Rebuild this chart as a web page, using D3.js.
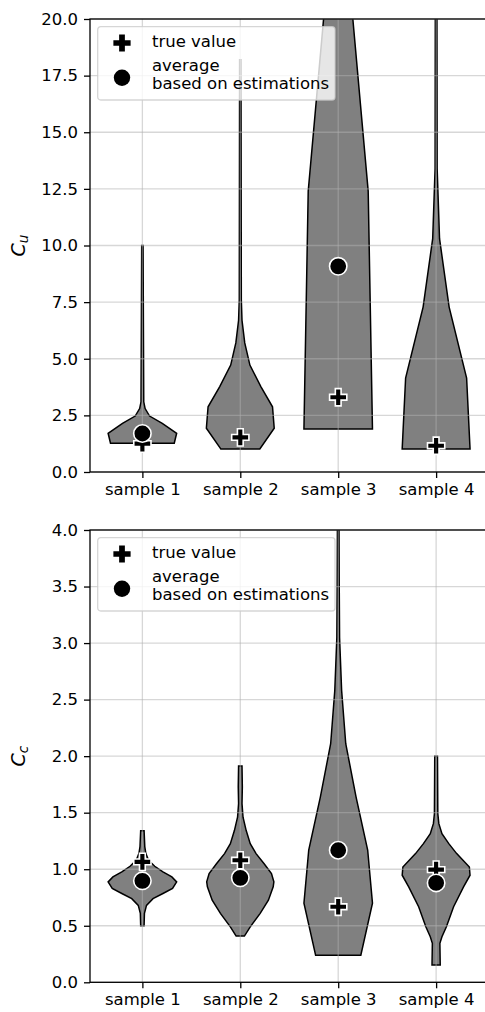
<!DOCTYPE html>
<html><head><meta charset="utf-8">
<script src="https://cdn.jsdelivr.net/npm/d3@7"></script>
<style>body{margin:0;background:#fff} svg{display:block} text{font-family:"DejaVu Sans",sans-serif}</style>
</head><body><svg id="chart" width="485" height="1012"></svg>
<script>
// ---------------- data ----------------
const categories = ["sample 1", "sample 2", "sample 3", "sample 4"];
const positions = [1, 2, 3, 4];

const cuTicks = [0, 2.5, 5, 7.5, 10, 12.5, 15, 17.5, 20];
const ccTicks = [0, 0.5, 1, 1.5, 2, 2.5, 3, 3.5, 4];

// true values and averages of estimations (null = outside visible range)
const cuTrue = [1.25, 1.53, 3.30, 1.16];
const cuAvg  = [1.70, null, 9.08, null];
const ccTrue = [1.065, 1.079, 0.668, 0.997];
const ccAvg  = [0.897, 0.924, 1.168, 0.879];

// violin outlines: [value, relative half-width (1 = widest)]
const cuViolin1 = [[1.27,0.93],[1.71,1.0],[2.15,0.58],[2.47,0.21],[2.8,0.08],[3.1,0.04],[10.0,0.02]];
const cuViolin2 = [[1.02,0.57],[1.93,0.99],[2.88,0.94],[3.77,0.6],[4.72,0.28],[5.7,0.13],[6.7,0.05],[7.6,0.03],[18.2,0.02]];
const cuViolin3 = [[1.9,1.0],[12.4,0.875],[23.0,0.25]];
const cuViolin4 = [[1.02,0.99],[4.15,0.89],[7.28,0.38],[10.3,0.1],[13.4,0.03],[25.0,0.02]];

const ccViolin1 = [[0.50,0.05],[0.61,0.06],[0.68,0.12],[0.74,0.31],[0.785,0.6],[0.83,0.88],[0.888,1.0],[0.932,0.86],[0.976,0.6],[1.026,0.36],[1.08,0.18],[1.14,0.1],[1.2,0.07],[1.34,0.05]];
const ccViolin2 = [[0.409,0.12],[0.49,0.29],[0.61,0.58],[0.726,0.82],[0.844,0.96],[0.888,0.98],[0.962,0.91],[1.05,0.69],[1.138,0.46],[1.226,0.29],[1.344,0.17],[1.46,0.08],[1.58,0.05],[1.73,0.06],[1.913,0.05]];
const ccViolin3 = [[0.24,0.66],[0.70,1.0],[1.17,0.86],[1.64,0.52],[2.11,0.22],[2.58,0.1],[3.05,0.04],[3.52,0.03],[4.3,0.02]];
const ccViolin4 = [[0.153,0.12],[0.344,0.11],[0.403,0.17],[0.491,0.3],[0.668,0.51],[0.844,0.8],[0.947,0.99],[1.02,0.97],[1.138,0.6],[1.226,0.37],[1.315,0.17],[1.403,0.08],[1.49,0.05],[2.0,0.04]];

const legendLabels = ["true value", ["average", "based on estimations"]];

// ---------------- drawing ----------------
const svg = d3.select("#chart");
const FONT = 16.5;
const halfMax = 0.35; // widths = 0.7

const x = d3.scaleLinear().domain([0.465, 4.535]).range([90, 488.5]);

const plusSym = d3.symbol().type(d3.symbolCross).size(165);
const dotSym = d3.symbol().type(d3.symbolCircle).size(Math.PI * 8.7 * 8.7);

function panel(o) {
  const g = svg.append("g");
  const y = d3.scaleLinear().domain([0, o.ymax]).range([o.bottom, o.top]);
  const clipId = "clip" + o.id;
  svg.append("clipPath").attr("id", clipId).append("rect")
    .attr("x", x.range()[0]).attr("y", o.top)
    .attr("width", x.range()[1] - x.range()[0]).attr("height", o.bottom - o.top);

  // violins
  const vg = g.append("g").attr("clip-path", `url(#${clipId})`);
  o.violins.forEach((prof, i) => {
    const p = positions[i];
    const left = prof.map(d => [x(p - d[1] * halfMax), y(d[0])]);
    const right = prof.slice().reverse().map(d => [x(p + d[1] * halfMax), y(d[0])]);
    vg.append("path")
      .attr("d", d3.line()(left.concat(right)) + "Z")
      .attr("fill", "#808080").attr("stroke", "#000").attr("stroke-width", 1.5)
      .attr("stroke-linejoin", "miter");
  });

  // grid
  const gg = g.append("g");
  o.ticks.forEach(t => {
    gg.append("line").attr("x1", x.range()[0]).attr("x2", x.range()[1])
      .attr("y1", y(t)).attr("y2", y(t))
      .attr("stroke", "#b0b0b0").attr("stroke-opacity", 0.5).attr("stroke-width", 1.3);
  });
  positions.forEach(p => {
    gg.append("line").attr("x1", x(p)).attr("x2", x(p))
      .attr("y1", o.top).attr("y2", o.bottom)
      .attr("stroke", "#b0b0b0").attr("stroke-opacity", 0.5).attr("stroke-width", 1.3);
  });

  // markers
  const mg = g.append("g").attr("clip-path", `url(#${clipId})`);
  o.trueVals.forEach((v, i) => {
    if (v == null) return;
    mg.append("path").attr("d", plusSym())
      .attr("transform", `translate(${x(positions[i])},${y(v)})`)
      .attr("fill", "#000").attr("stroke", "#fff").attr("stroke-width", 1.6);
  });
  o.avgVals.forEach((v, i) => {
    if (v == null) return;
    mg.append("path").attr("d", dotSym())
      .attr("transform", `translate(${x(positions[i])},${y(v)})`)
      .attr("fill", "#000").attr("stroke", "#fff").attr("stroke-width", 1.6);
  });

  // axes
  const ya = g.append("g").attr("transform", `translate(${x.range()[0]},0)`)
    .call(d3.axisLeft(y).tickValues(o.ticks).tickFormat(d3.format(".1f")).tickSize(6).tickSizeOuter(0).tickPadding(6));
  const xa = g.append("g").attr("transform", `translate(0,${o.bottom})`)
    .call(d3.axisBottom(x).tickValues(positions).tickFormat((d, i) => categories[i]).tickSize(6).tickSizeOuter(0).tickPadding(5));
  [ya, xa].forEach(a => {
    a.select(".domain").remove();
    a.selectAll(".tick line").attr("stroke", "#000").attr("stroke-width", 1.3);
    a.selectAll(".tick text").attr("font-size", FONT).attr("fill", "#000")
      .style("font-family", '"DejaVu Sans", sans-serif');
  });

  // spines
  g.append("rect").attr("x", x.range()[0]).attr("y", o.top)
    .attr("width", x.range()[1] - x.range()[0]).attr("height", o.bottom - o.top)
    .attr("fill", "none").attr("stroke", "#000").attr("stroke-width", 1.3);

  // y label
  const lab = g.append("text")
    .attr("transform", `translate(25,${(o.top + o.bottom) / 2}) rotate(-90)`)
    .attr("text-anchor", "middle").attr("font-size", 19).attr("fill", "#000");
  lab.append("tspan").attr("font-style", "italic").text("C");
  lab.append("tspan").attr("font-style", "italic").attr("font-size", 13.5)
    .attr("dy", 3).text(o.sub);

  // legend
  const lg = g.append("g").attr("transform", `translate(97.7,${o.top + 7.7})`);
  lg.append("rect").attr("width", 237.3).attr("height", 73.3).attr("rx", 3)
    .attr("fill", "#fff").attr("fill-opacity", 0.8)
    .attr("stroke", "#cccccc").attr("stroke-opacity", 0.8).attr("stroke-width", 1.3);
  lg.append("path").attr("d", plusSym()).attr("transform", "translate(24.3,16.3)").attr("fill", "#000");
  lg.append("path").attr("d", d3.symbol().type(d3.symbolCircle).size(Math.PI * 8.2 * 8.2)())
    .attr("transform", "translate(24.3,51)").attr("fill", "#000");
  lg.append("text").attr("x", 54.3).attr("y", 20).attr("font-size", FONT).text(legendLabels[0]);
  lg.append("text").attr("x", 54.3).attr("y", 44.3).attr("font-size", FONT).text(legendLabels[1][0]);
  lg.append("text").attr("x", 54.3).attr("y", 62.6).attr("font-size", FONT).text(legendLabels[1][1]);
}

panel({id: "u", top: 19, bottom: 472, ymax: 20, ticks: cuTicks, sub: "u",
  violins: [cuViolin1, cuViolin2, cuViolin3, cuViolin4], trueVals: cuTrue, avgVals: cuAvg});
panel({id: "c", top: 530, bottom: 982.3, ymax: 4, ticks: ccTicks, sub: "c",
  violins: [ccViolin1, ccViolin2, ccViolin3, ccViolin4], trueVals: ccTrue, avgVals: ccAvg});
</script></body></html>
